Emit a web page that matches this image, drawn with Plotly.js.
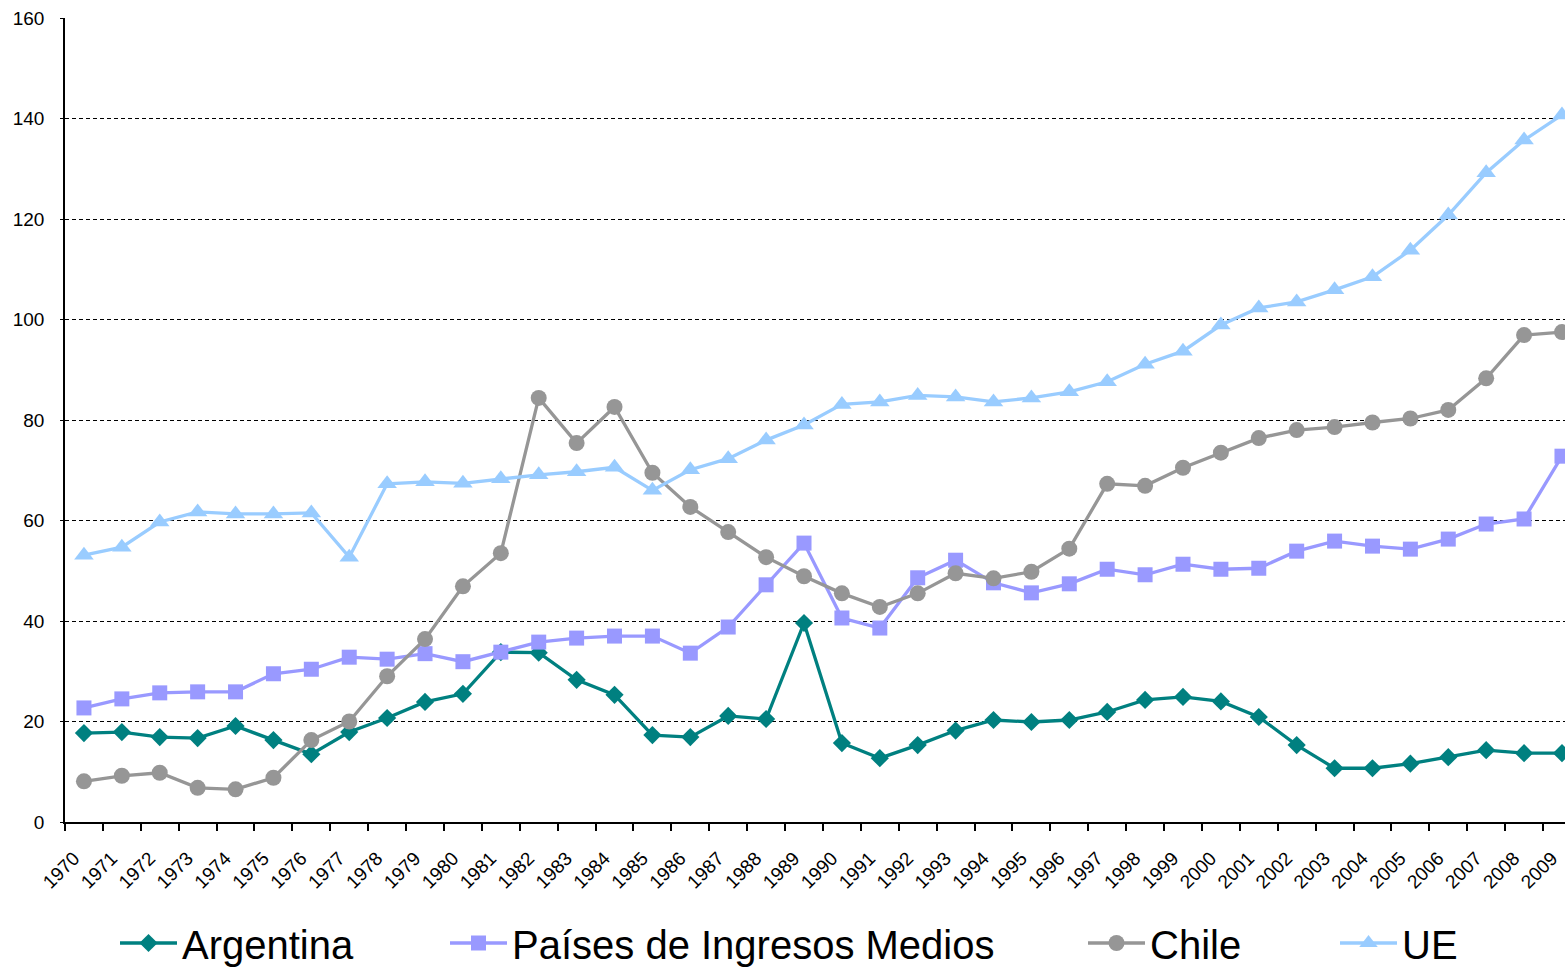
<!DOCTYPE html>
<html>
<head>
<meta charset="utf-8">
<script src="https://cdn.plot.ly/plotly-3.0.1.min.js"></script>
<style>
  html, body { margin: 0; padding: 0; background: #fff; }
  #graph { width: 1565px; height: 967px; }
</style>
</head>
<body>
<div id="graph"></div>
<script>
// *********************************************************************************************
// DATA

const YEARS = ['1970', '1971', '1972', '1973', '1974', '1975', '1976', '1977', '1978', '1979',
               '1980', '1981', '1982', '1983', '1984', '1985', '1986', '1987', '1988', '1989',
               '1990', '1991', '1992', '1993', '1994', '1995', '1996', '1997', '1998', '1999',
               '2000', '2001', '2002', '2003', '2004', '2005', '2006', '2007', '2008', '2009'];

const ARGENTINA = [17.7, 17.9, 16.9, 16.7, 19.1, 16.3, 13.5, 17.9, 20.7, 23.9,
                   25.5, 33.8, 33.7, 28.3, 25.3, 17.3, 16.9, 21.1, 20.5, 39.6,
                   15.7, 12.7, 15.3, 18.2, 20.3, 19.9, 20.3, 21.9, 24.3, 24.9,
                   24.0, 20.9, 15.3, 10.7, 10.7, 11.6, 12.9, 14.3, 13.7, 13.7];

const PAISES_MEDIOS = [22.7, 24.5, 25.7, 25.9, 25.9, 29.5, 30.4, 32.8, 32.4, 33.5,
                       31.9, 33.8, 35.8, 36.6, 37.0, 37.0, 33.6, 38.8, 47.2, 55.5,
                       40.6, 38.6, 48.6, 52.1, 47.6, 45.6, 47.4, 50.3, 49.2, 51.3,
                       50.3, 50.5, 53.9, 55.9, 54.9, 54.3, 56.3, 59.3, 60.3, 72.8];

const CHILE = [8.1, 9.2, 9.8, 6.8, 6.5, 8.8, 16.3, 20.0, 29.0, 36.4,
               46.9, 53.5, 84.4, 75.4, 82.6, 69.5, 62.7, 57.7, 52.7, 48.9,
               45.5, 42.8, 45.5, 49.5, 48.5, 49.8, 54.4, 67.3, 66.9, 70.5,
               73.5, 76.4, 78.0, 78.6, 79.5, 80.3, 82.0, 88.3, 96.9, 97.5];

const UE = [53.1, 54.7, 59.7, 61.7, 61.3, 61.3, 61.5, 52.7, 67.3, 67.7,
            67.4, 68.3, 69.1, 69.7, 70.6, 66.0, 70.1, 72.3, 76.0, 79.0,
            83.1, 83.6, 84.9, 84.6, 83.6, 84.4, 85.6, 87.6, 91.1, 93.7,
            98.9, 102.3, 103.5, 105.9, 108.5, 113.8, 120.8, 129.2, 135.7, 140.7];

const Y_TICKS = [0, 20, 40, 60, 80, 100, 120, 140, 160];


// *********************************************************************************************
// TRACES

const FONT = 'Liberation Sans, Arial, sans-serif';

function series(name, y, color, symbol, size, legend) {
    return {
        name: name,
        type: 'scatter',
        mode: 'lines+markers',
        x: YEARS,
        y: y,
        legend: legend,
        line: { color: color, width: 3.3 },
        marker: { color: color, symbol: symbol, size: size, line: { width: 0 } },
        cliponaxis: false
    };
}

let data = [
    series('Argentina', ARGENTINA, '#008080', 'diamond', 14, 'legend'),
    series('Países de Ingresos Medios', PAISES_MEDIOS, '#9999FF', 'square', 15, 'legend2'),
    series('Chile', CHILE, '#969696', 'circle', 16, 'legend3'),
    series('UE', UE, '#99CCFF', 'triangle-up', 17, 'legend4')
];


// *********************************************************************************************
// LAYOUT

function legendAt(x) {
    return {
        xref: 'container', yref: 'container',
        x: x, y: 1 - 943 / 967,
        xanchor: 'left', yanchor: 'middle',
        orientation: 'h',
        bgcolor: 'rgba(0,0,0,0)',
        borderwidth: 0,
        itemwidth: 57,
        font: { family: FONT, size: 40, color: '#000' }
    };
}

let layout = {
    width: 1565,
    height: 967,
    margin: { t: 18, r: 0, b: 145, l: 65 },
    paper_bgcolor: '#fff',
    plot_bgcolor: '#fff',
    showlegend: true,
    font: { family: FONT, color: '#000' },

    xaxis: {
        type: 'category',
        range: [-0.5, 39.08],
        tickson: 'boundaries',
        ticks: 'outside',
        ticklen: 7,
        tickwidth: 1.5,
        tickcolor: '#000',
        showline: true,
        linecolor: '#000',
        linewidth: 1.5,
        showgrid: false,
        zeroline: false,
        tickangle: -45,
        ticklabelstandoff: 16,
        ticklabelshift: -10,
        tickvals: YEARS,
        ticktext: YEARS,
        tickfont: { family: FONT, size: 19, color: '#000' }
    },
    yaxis: {
        range: [0, 160],
        tickvals: Y_TICKS,
        ticks: 'outside',
        ticklen: 3,
        tickcolor: '#000',
        ticklabelstandoff: 12,
        showline: true,
        linecolor: '#000',
        linewidth: 1.5,
        showgrid: true,
        gridcolor: '#000',
        gridwidth: 1.4,
        griddash: '4px,3px',
        zeroline: false,
        tickfont: { family: FONT, size: 19, color: '#000' }
    },

    legend: legendAt(115 / 1565),
    legend2: legendAt(445 / 1565),
    legend3: legendAt(1083 / 1565),
    legend4: legendAt(1335 / 1565)
};


// *********************************************************************************************
// CONFIG

const config = {
    displaylogo: false,
    displayModeBar: false
};

Plotly.newPlot('graph', data, layout, config);
</script>
</body>
</html>
